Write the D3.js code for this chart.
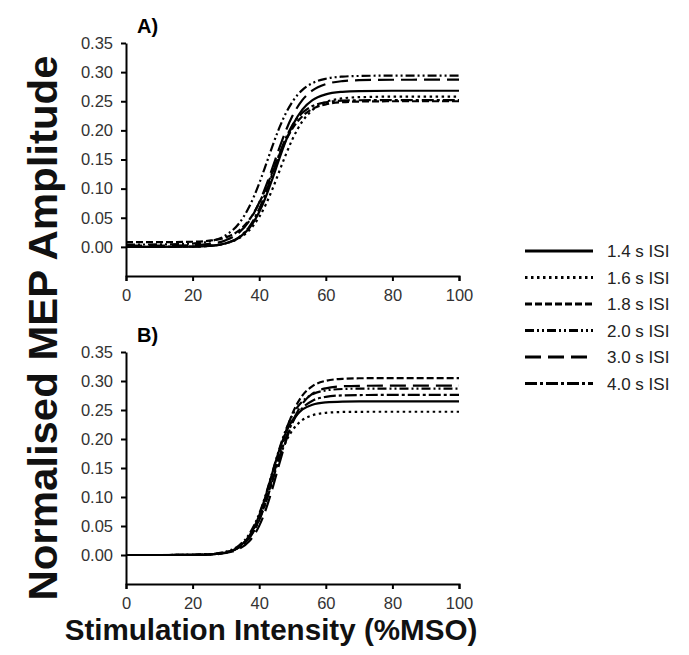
<!DOCTYPE html>
<html>
<head>
<meta charset="utf-8">
<script src="https://cdn.jsdelivr.net/npm/d3@7"></script>
<style>
  body { margin: 0; background: #fff; }
  text { font-family: "Liberation Sans", Arial, sans-serif; }
</style>
</head>
<body>
<div id="chart"></div>
<script>
// stimulation intensity samples (%MSO)
const intensity = [0, 10, 20, 25, 30, 34, 37, 40, 42, 44, 46, 48, 50, 53, 56, 60, 65, 70, 80, 100];

const isiLabels = ["1.4 s ISI", "1.6 s ISI", "1.8 s ISI", "2.0 s ISI", "3.0 s ISI", "4.0 s ISI"];
const dashes = ["none", "2.5,3.5", "7,3", "9,3,2,3,2,3", "16,7", "12,3,3,3"];

// panel A - normalised MEP amplitude per ISI
const panelA = [
  [0.000, 0.000, 0.0005, 0.0018, 0.0062, 0.0161, 0.0319, 0.0598, 0.0861, 0.1173, 0.1507, 0.1819, 0.2082, 0.2361, 0.2519, 0.2618, 0.2662, 0.2675, 0.268, 0.268],
  [0.000, 0.0001, 0.0006, 0.0019, 0.0061, 0.0150, 0.0284, 0.0514, 0.0730, 0.0996, 0.1290, 0.1584, 0.1850, 0.2157, 0.2350, 0.2485, 0.2549, 0.2570, 0.2579, 0.258],
  [0.008, 0.0081, 0.0088, 0.0106, 0.0163, 0.0285, 0.0465, 0.0753, 0.1007, 0.1290, 0.1573, 0.1827, 0.2033, 0.2246, 0.2369, 0.2447, 0.2484, 0.2495, 0.250, 0.250],
  [0.004, 0.0042, 0.0057, 0.0093, 0.0200, 0.0407, 0.0687, 0.1090, 0.1408, 0.1735, 0.2038, 0.2293, 0.2493, 0.2696, 0.2811, 0.2887, 0.2923, 0.2934, 0.294, 0.294],
  [0.002, 0.0021, 0.0029, 0.0050, 0.0115, 0.0248, 0.0444, 0.0761, 0.1042, 0.1362, 0.1690, 0.1995, 0.2249, 0.2523, 0.2686, 0.2794, 0.2846, 0.2862, 0.2869, 0.287],
  [0.000, 0.000, 0.0005, 0.0017, 0.0062, 0.0169, 0.0345, 0.0652, 0.0936, 0.1260, 0.1584, 0.1868, 0.2089, 0.2304, 0.2417, 0.2483, 0.2510, 0.2517, 0.252, 0.252]
];

// panel B
const panelB = [
  [0, 0, 0.0002, 0.0010, 0.0044, 0.0141, 0.0324, 0.0682, 0.1029, 0.1425, 0.1804, 0.2110, 0.2326, 0.2509, 0.2591, 0.2632, 0.2646, 0.2649, 0.265, 0.265],
  [0, 0, 0.0002, 0.0011, 0.0046, 0.0143, 0.0319, 0.0650, 0.0967, 0.1326, 0.1670, 0.1951, 0.2152, 0.2328, 0.2409, 0.2451, 0.2466, 0.2469, 0.247, 0.247],
  [0, 0, 0.0003, 0.0012, 0.0046, 0.0137, 0.0299, 0.0609, 0.0924, 0.1315, 0.1735, 0.2126, 0.2441, 0.2752, 0.2913, 0.3003, 0.3038, 0.3047, 0.305, 0.305],
  [0, 0, 0.0004, 0.0015, 0.0058, 0.0168, 0.0359, 0.0711, 0.1046, 0.1435, 0.1824, 0.2159, 0.2414, 0.2652, 0.2771, 0.2837, 0.2862, 0.2868, 0.287, 0.287],
  [0, 0, 0.0002, 0.0008, 0.0034, 0.0105, 0.0237, 0.0502, 0.0785, 0.1152, 0.1564, 0.1960, 0.2288, 0.2613, 0.2782, 0.2874, 0.2909, 0.2917, 0.292, 0.292],
  [0, 0, 0.0003, 0.0010, 0.0043, 0.0131, 0.0290, 0.0598, 0.0907, 0.1281, 0.1671, 0.2018, 0.2285, 0.2536, 0.2661, 0.2727, 0.2752, 0.2758, 0.276, 0.276]
];

const xTicks = [0, 20, 40, 60, 80, 100];
const yTicks = [0.00, 0.05, 0.10, 0.15, 0.20, 0.25, 0.30, 0.35];

const w = 689, h = 655;
const plotLeft = 126, plotRight = 459;

const svg = d3.select("#chart").append("svg")
  .attr("width", w)
  .attr("height", h);

const x = d3.scaleLinear().domain([0, 100]).range([plotLeft, plotRight]);

function drawPanel(series, top, bottom, label) {
  const y = d3.scaleLinear().domain([-0.05, 0.35]).range([bottom, top]);
  const g = svg.append("g");

  const xAxis = d3.axisBottom(x).tickValues(xTicks).tickSize(5).tickSizeOuter(5).tickPadding(8);
  const yAxis = d3.axisLeft(y).tickValues(yTicks).tickSize(5).tickSizeOuter(0).tickPadding(8)
    .tickFormat(d3.format(".2f"));

  const gx = g.append("g")
    .attr("transform", `translate(0,${bottom})`)
    .call(xAxis);
  const gy = g.append("g")
    .attr("transform", `translate(${plotLeft},0)`)
    .call(yAxis);

  [gx, gy].forEach(a => {
    a.select(".domain").attr("stroke", "#000").attr("stroke-width", 2);
    a.selectAll(".tick line").attr("stroke", "#000").attr("stroke-width", 2);
    a.selectAll(".tick text")
      .attr("fill", "#333")
      .style("font-size", "16.5px")
      .style("font-family", "'Liberation Sans', Arial, sans-serif");
  });

  const line = d3.line()
    .x((d, i) => x(intensity[i]))
    .y(d => y(d))
    .curve(d3.curveMonotoneX);

  series.forEach((s, k) => {
    g.append("path")
      .attr("d", line(s))
      .attr("fill", "none")
      .attr("stroke", "#000")
      .attr("stroke-width", 2.2)
      .attr("stroke-dasharray", dashes[k]);
  });

  g.append("text")
    .attr("x", 137)
    .attr("y", top - 10)
    .text(label)
    .style("font-size", "20px")
    .style("font-weight", "bold")
    .attr("fill", "#000");
}

drawPanel(panelA, 43, 276, "A)");
drawPanel(panelB, 352, 584, "B)");

// axis titles
svg.append("text")
  .attr("transform", "translate(57,328) rotate(-90)")
  .attr("text-anchor", "middle")
  .attr("textLength", 545)
  .attr("lengthAdjust", "spacingAndGlyphs")
  .text("Normalised MEP Amplitude")
  .style("font-size", "40px")
  .style("font-weight", "bold")
  .attr("fill", "#111");

svg.append("text")
  .attr("x", 271)
  .attr("y", 640)
  .attr("text-anchor", "middle")
  .text("Stimulation Intensity (%MSO)")
  .style("font-size", "29.6px")
  .style("font-weight", "bold")
  .attr("fill", "#111");

// legend
const legend = svg.append("g");
isiLabels.forEach((lab, k) => {
  const ly = 251 + k * 26.5;
  legend.append("line")
    .attr("x1", 525).attr("x2", 593)
    .attr("y1", ly).attr("y2", ly)
    .attr("stroke", "#000")
    .attr("stroke-width", 3)
    .attr("stroke-dasharray", dashes[k]);
  legend.append("text")
    .attr("x", 607)
    .attr("y", ly + 6)
    .text(lab)
    .style("font-size", "17px")
    .attr("fill", "#222");
});
</script>
</body>
</html>
